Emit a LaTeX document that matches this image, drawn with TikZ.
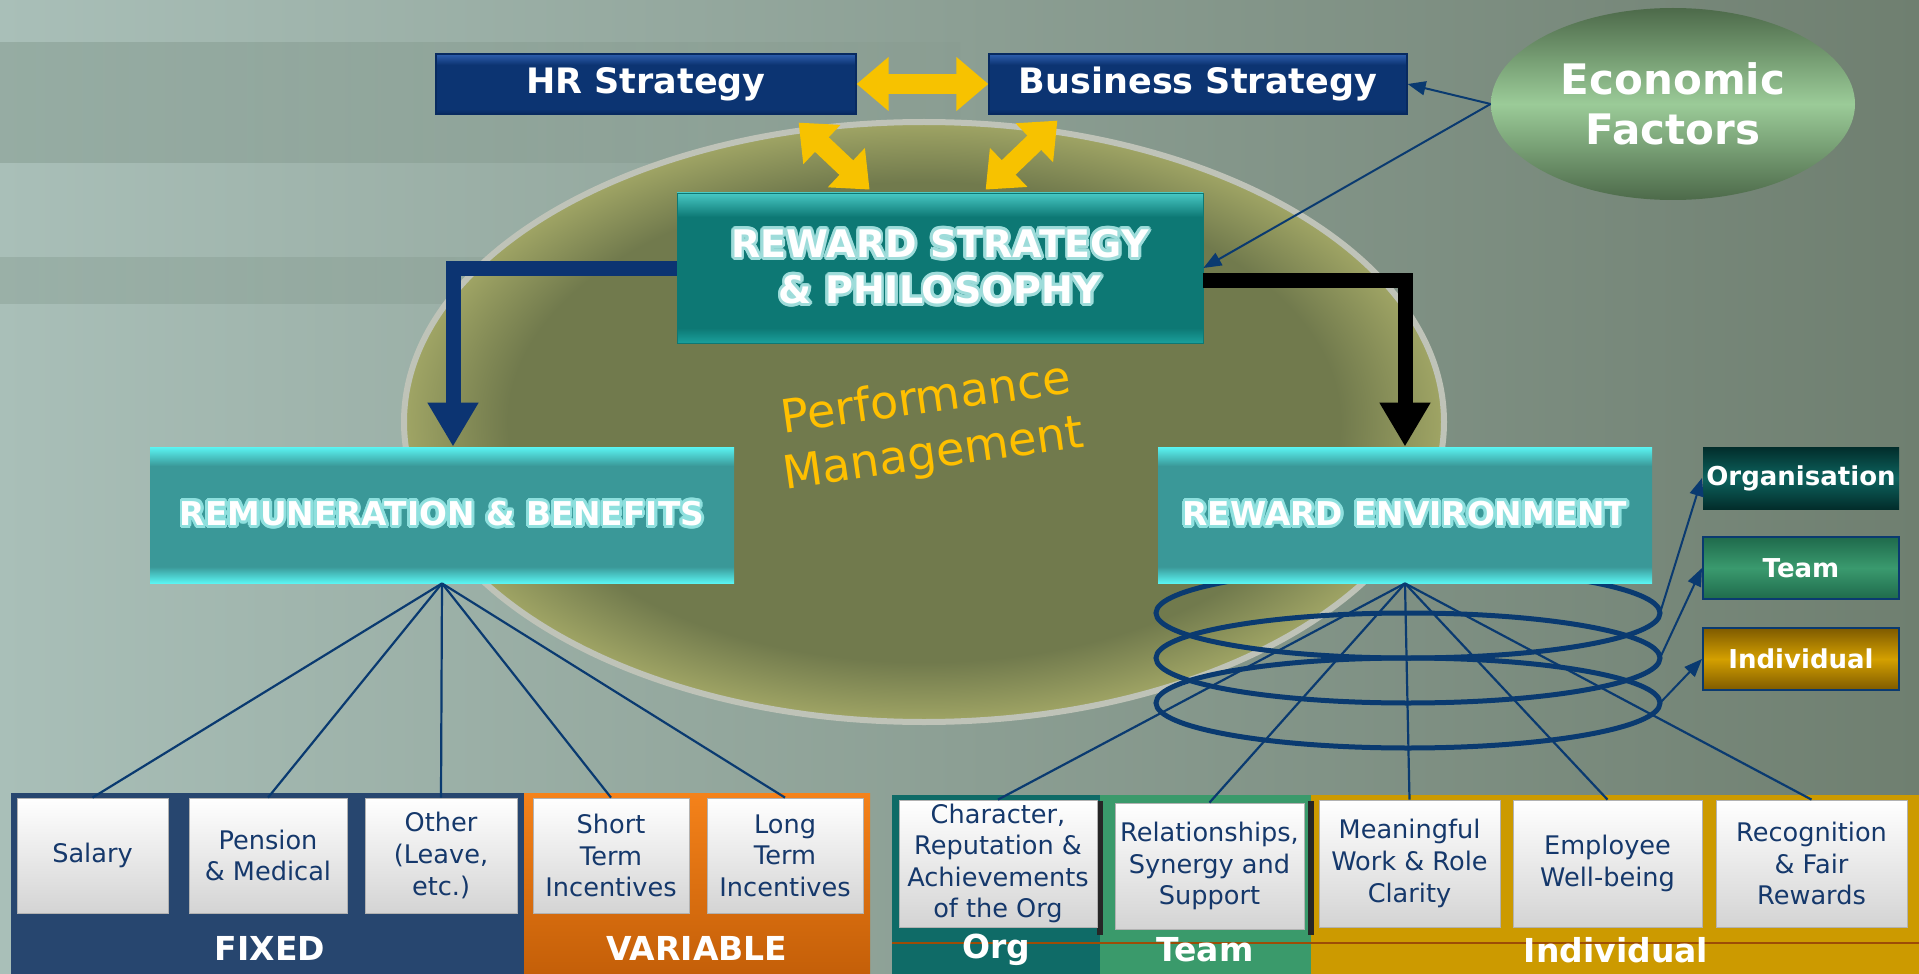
\documentclass[tikz,border=0pt]{standalone}
\usepackage{fontspec}
\setmainfont{DejaVu Sans}
\usepackage{contour}
\contourlength{1.4pt}
\usetikzlibrary{arrows.meta,shapes.geometric,calc}

\definecolor{bgL}{HTML}{A9BFB8}
\definecolor{bgM}{HTML}{889B8F}
\definecolor{bgR}{HTML}{6F7F70}
\definecolor{bandc}{HTML}{5E7666}
\definecolor{navy}{HTML}{0C3472}
\definecolor{navyhi}{HTML}{2F5FAE}
\definecolor{navylo}{HTML}{082A60}
\definecolor{linenavy}{HTML}{0A3A70}
\definecolor{tealbody}{HTML}{0D7874}
\definecolor{tealhi}{HTML}{48C8C4}
\definecolor{teallo}{HTML}{1AA09C}
\definecolor{cybody}{HTML}{3A9898}
\definecolor{cyhi}{HTML}{5AF4F2}
\definecolor{olA}{HTML}{717A4D}
\definecolor{olB}{HTML}{A0A565}
\definecolor{rim}{HTML}{BFC3B8}
\definecolor{ecoMid}{HTML}{9BCB98}
\definecolor{ecoEdge}{HTML}{4D6A4A}
\definecolor{gold}{HTML}{F7C200}
\definecolor{perfgold}{HTML}{FFC000}
\definecolor{txtnavy}{HTML}{15386B}
\definecolor{fixblue}{HTML}{27466F}
\definecolor{varorange}{HTML}{C45F08}
\definecolor{varhi}{HTML}{F5821A}
\definecolor{orgteal}{HTML}{0F6B67}
\definecolor{teamgreen}{HTML}{3A9A6B}
\definecolor{indgold}{HTML}{CC9A00}
\definecolor{orgdk}{HTML}{022D2B}
\definecolor{orgmid}{HTML}{0D635E}
\definecolor{teamdk}{HTML}{1F6A4C}
\definecolor{teammid}{HTML}{3A9A6E}
\definecolor{inddk}{HTML}{7E5A00}
\definecolor{indmid}{HTML}{D4A000}
\definecolor{tglow}{HTML}{9EDCDA}
\definecolor{cglow}{HTML}{8EE0DE}

\pgfdeclareverticalshading{navybevel}{100bp}{color(0bp)=(navylo); color(25bp)=(navylo); color(29bp)=(navy); color(66bp)=(navy); color(75bp)=(navyhi); color(100bp)=(navyhi)}
\pgfdeclareverticalshading{tealbevel}{100bp}{color(0bp)=(teallo); color(25bp)=(teallo); color(30bp)=(tealbody); color(67bp)=(tealbody); color(75bp)=(tealhi); color(100bp)=(tealhi)}
\pgfdeclareverticalshading{cyanbevel}{100bp}{color(0bp)=(cyhi); color(25bp)=(cyhi); color(31bp)=(cybody); color(68bp)=(cybody); color(75bp)=(cyhi); color(100bp)=(cyhi)}
\pgfdeclareradialshading{olivedisc}{\pgfpoint{0bp}{0bp}}{color(0bp)=(olA); color(20bp)=(olA); color(25bp)=(olB); color(50bp)=(olB)}

\tikzset{
  stratbox/.style={shade, shading=navybevel, draw=navylo, line width=0.6pt, minimum width=#1, minimum height=30pt, inner sep=0pt, text=white, font=\fontsize{17.5}{20}\selectfont\bfseries},
  rsbox/.style={shade, shading=tealbevel, draw=tealbody, minimum width=263pt, minimum height=75pt, inner sep=0pt, align=center, text=white, font=\fontsize{19}{23}\selectfont\bfseries},
  cybox/.style={shade, shading=cyanbevel, minimum width=#1, minimum height=68pt, inner sep=0pt, text=white, font=\fontsize{16.4}{19}\selectfont\bfseries},
  ecobox/.style={ellipse, minimum width=182pt, minimum height=96pt, inner sep=0pt, top color=ecoEdge, bottom color=ecoEdge, middle color=ecoMid, align=center, text=white, font=\fontsize{21}{25}\selectfont\bfseries},
  lvlbox/.style={minimum width=98pt, minimum height=31pt, inner sep=0pt, draw=linenavy, line width=1pt, text=white, font=\fontsize{13}{15}\selectfont\bfseries},
  ringnode/.style={ellipse, draw=linenavy, line width=2.5pt, minimum width=252pt, minimum height=45pt, inner sep=0pt, outer sep=0pt},
  panel/.style={minimum height=#1, inner sep=0pt, outer sep=0pt},
  panlabel/.style={text=white, font=\fontsize{16.5}{18}\selectfont\bfseries},
  itembox/.style={minimum width=#1, top color=white, bottom color=black!17, draw=black!30, text=txtnavy, align=center, inner sep=0pt, font=\fontsize{12.8}{15.8}\selectfont},
  fanline/.style={draw=linenavy, line width=1.1pt},
  thinarrow/.style={draw=linenavy, line width=1pt, -{Triangle[width=7pt,length=9pt]}},
  bentarrow/.style={line width=7.5pt, -{Triangle[width=24pt,length=22pt]}},
  yarrow/.style={draw=gold, line width=10pt, {Triangle[width=26pt,length=16pt]}-{Triangle[width=26pt,length=16pt]}}
}

\begin{document}
\begin{tikzpicture}[x=0.5pt,y=-0.5pt]
\useasboundingbox (0,0) rectangle (1919,974);
\shade[left color=bgL, middle color=bgM, right color=bgR] (0,0) rectangle (1919,974);
\shade[left color=bandc, right color=bgM, opacity=0.25] (0,43) rectangle (960,163);
\shade[left color=bandc, right color=bgM, opacity=0.2] (0,257) rectangle (960,303);

% performance management disc
\shade[shading=olivedisc] (924,422) ellipse [x radius=520, y radius=300];
\draw[rim, line width=3pt] (924,422) ellipse [x radius=520, y radius=300];

\foreach \i/\y in {1/613,2/658,3/703}
  \node[ringnode] (ring\i) at (1408,\y) {};

\node[stratbox=210pt] (hr) at (646,84) {HR Strategy};
\node[stratbox=209pt] (bus) at (1198,84) {Business Strategy};
\node[ecobox] (eco) at (1673,104) {Economic\\Factors};
\node[rsbox] (rsp) at (940,268) {\contour{tglow}{REWARD STRATEGY}\\\contour{tglow}{\& PHILOSOPHY}};
\node[cybox=292pt] (remb) at (442,515) {\contour{cglow}{REMUNERATION \& BENEFITS}};
\node[cybox=247pt] (renv) at (1405,515) {\contour{cglow}{REWARD ENVIRONMENT}};
\node[rotate=8, text=perfgold, align=center, font=\fontsize{23}{28}\selectfont] (perf) at (930,428) {Performance\\Management};

\node[lvlbox, top color=orgdk, bottom color=orgdk, middle color=orgmid, draw=none] (org) at (1801,478) {Organisation};
\node[lvlbox, top color=teamdk, bottom color=teamdk, middle color=teammid] (team) at (1801,568) {Team};
\node[lvlbox, top color=inddk, bottom color=inddk, middle color=indmid] (indiv) at (1801,659) {Individual};

% bottom panels
\node[panel=90.5pt, fill=fixblue, minimum width=256.5pt] (fixp) at (267.5,883.5) {};
\node[panel=90.5pt, top color=varhi, bottom color=varorange, minimum width=173pt] (varp) at (697,883.5) {};
\node[panel=89.5pt, fill=orgteal, minimum width=104pt] (orgp) at (996,884.5) {};
\node[panel=89.5pt, fill=teamgreen, minimum width=105.5pt] (teamp) at (1205.5,884.5) {};
\node[panel=89.5pt, fill=indgold, minimum width=304pt] (indp) at (1615,884.5) {};
\draw[line width=1pt, draw=varorange!80!black] ($(orgp.north west)+(0,148)$) -- ($(indp.north east)+(0,148)$);
\draw[line width=3pt, black!85] ($(orgp.north east)+(0,6)$) -- ($(orgp.north east)+(0,140)$);
\draw[line width=3pt, black!85] ($(teamp.north east)+(0,6)$) -- ($(teamp.north east)+(0,140)$);

\node[itembox=75.5pt, minimum height=57.5pt] (sal) at (92.5,855.5) {Salary};
\node[itembox=79pt, minimum height=57.5pt] (pen) at (268,855.5) {Pension\\\& Medical};
\node[itembox=76pt, minimum height=57.5pt] (oth) at (441,855.5) {Other\\(Leave,\\etc.)};
\node[itembox=78pt, minimum height=57.5pt] (sti) at (611,855.5) {Short\\Term\\Incentives};
\node[itembox=78pt, minimum height=57.5pt] (lti) at (785,855.5) {Long\\Term\\Incentives};
\node[itembox=99pt, minimum height=63.5pt] (chr) at (998,863.5) {Character,\\Reputation \&\\Achievements\\of the Org};
\node[itembox=94.5pt, minimum height=63pt] (rel) at (1209.5,866) {Relationships,\\Synergy and\\Support};
\node[itembox=90.5pt, minimum height=63.5pt] (mwr) at (1409.5,863.5) {Meaningful\\Work \& Role\\Clarity};
\node[itembox=94.5pt, minimum height=63.5pt] (ewb) at (1607.5,863.5) {Employee\\Well-being};
\node[itembox=95.5pt, minimum height=63.5pt] (rfr) at (1811.5,863.5) {Recognition\\\& Fair\\Rewards};

\node[panlabel] (fixl) at (270,948) {FIXED};
\node[panlabel] (varl) at (697,948) {VARIABLE};
\node[panlabel] (orgl) at (996,950) {Org};
\node[panlabel] (teaml) at (1205,950) {Team};
\node[panlabel] (indl) at (1616,950) {Individual};

\foreach \b in {sal,pen,oth,sti,lti}
  \draw[fanline] (remb.south) -- (\b.north);
\foreach \b in {chr,rel,mwr,ewb,rfr}
  \draw[fanline] (renv.south) -- (\b.north);

\draw[thinarrow] (ring1.east) -- (org.west);
\draw[thinarrow] (ring2.east) -- (team.west);
\draw[thinarrow] (ring3.east) -- (indiv.west);
\draw[thinarrow] (eco.west) -- (bus.east);
\draw[thinarrow] (eco.west) -- (rsp.east);

\draw[bentarrow, draw=navy] (rsp.west) -| ($(remb.north)+(11,0)$);
\draw[bentarrow, draw=black] ($(rsp.east)+(0,12)$) -| (renv.north);

\draw[yarrow] (hr.east) -- (bus.west);
\draw[yarrow] ($(hr.south east)+(-58,8)$) -- ($(rsp.north west)+(193,-3)$);
\draw[yarrow] ($(rsp.north west)+(309,-3)$) -- ($(bus.south west)+(69,6)$);
\end{tikzpicture}
\end{document}
